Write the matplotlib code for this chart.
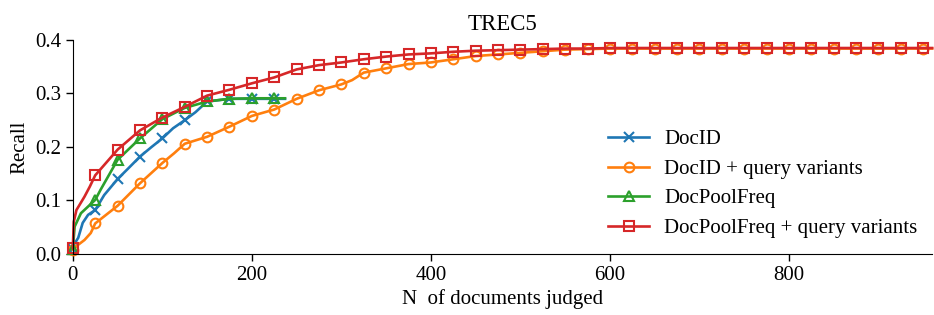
import matplotlib
matplotlib.use("Agg")
import matplotlib.pyplot as plt

# === Data ===
docid_x = [0, 1, 6, 11, 17, 25, 35, 50, 62, 75, 88, 100, 112, 125, 137, 150, 175, 200, 225, 237]
docid_y = [0.010, 0.017, 0.030, 0.058, 0.073, 0.082, 0.110, 0.140, 0.160, 0.182, 0.200, 0.216,
           0.235, 0.250, 0.265, 0.285, 0.290, 0.290, 0.290, 0.290]

docid_qv_x = [0, 2, 13, 20, 25, 50, 75, 100, 113, 125, 150, 175, 200, 225, 250, 275, 300, 312,
              325, 350, 375, 400, 425, 450, 475, 500, 525, 550, 575, 600, 625, 650, 675, 700,
              725, 750, 775, 800, 825, 850, 875, 900, 925, 950, 960]
docid_qv_y = [0.008, 0.012, 0.026, 0.039, 0.057, 0.090, 0.132, 0.170, 0.188, 0.206, 0.219, 0.238,
              0.258, 0.270, 0.290, 0.306, 0.317, 0.325, 0.339, 0.347, 0.355, 0.358, 0.364, 0.370,
              0.373, 0.376, 0.379, 0.382, 0.383, 0.384, 0.384, 0.384, 0.384, 0.384, 0.384, 0.384,
              0.384, 0.384, 0.384, 0.384, 0.384, 0.384, 0.384, 0.384, 0.384]

dpf_x = [0, 2, 9, 25, 31, 50, 75, 100, 125, 150, 175, 200, 225, 237]
dpf_y = [0.010, 0.051, 0.076, 0.101, 0.120, 0.176, 0.216, 0.252, 0.273, 0.285, 0.290, 0.291,
         0.291, 0.291]

dpf_qv_x = [0, 1, 4, 13, 19, 25, 50, 75, 100, 125, 150, 175, 200, 225, 250, 275, 300, 325, 350,
            375, 400, 425, 450, 475, 500, 525, 550, 575, 600, 625, 650, 675, 700, 725, 750, 775,
            800, 825, 850, 875, 900, 925, 950, 960]
dpf_qv_y = [0.011, 0.060, 0.082, 0.107, 0.126, 0.147, 0.195, 0.231, 0.255, 0.275, 0.296, 0.307,
            0.319, 0.330, 0.345, 0.353, 0.358, 0.364, 0.369, 0.373, 0.375, 0.378, 0.380, 0.381,
            0.382, 0.383, 0.384, 0.384, 0.385, 0.385, 0.385, 0.385, 0.385, 0.385, 0.385, 0.385,
            0.385, 0.385, 0.385, 0.385, 0.385, 0.385, 0.385, 0.385]

series = [
    ("DocID", docid_x, docid_y, "x", "#1f77b4"),
    ("DocID + query variants", docid_qv_x, docid_qv_y, "o", "#ff7f0e"),
    ("DocPoolFreq", dpf_x, dpf_y, "^", "#2ca02c"),
    ("DocPoolFreq + query variants", dpf_qv_x, dpf_qv_y, "s", "#d62728"),
]

plt.rcParams["font.family"] = ["Liberation Serif", "DejaVu Serif"]
plt.rcParams["font.size"] = 15

fig = plt.figure(figsize=(9.34, 3.15), dpi=100)
ax = fig.add_axes([0.078, 0.194, 0.92, 0.679])

for label, xs, ys, marker, color in series:
    marks = [i for i, v in enumerate(xs) if v % 25 == 0]
    ax.plot(xs, ys, color=color, lw=1.9, marker=marker, markevery=marks,
            markersize=7, fillstyle="none", markeredgewidth=1.5, label=label,
            clip_on=False)

ax.set_xlim(0, 960)
ax.set_ylim(0, 0.4)
ax.set_xticks([0, 200, 400, 600, 800])
ax.set_yticks([0.0, 0.1, 0.2, 0.3, 0.4])
ax.yaxis.set_major_formatter(matplotlib.ticker.FormatStrFormatter("%.1f"))
ax.spines["top"].set_visible(False)
ax.spines["right"].set_visible(False)
ax.tick_params(direction="out", length=5, width=1)

ax.set_title("TREC5", fontsize=16.5, pad=7)
ax.set_xlabel("N  of documents judged", labelpad=3)
ax.set_ylabel("Recall")
ax.legend(loc="upper left", bbox_to_anchor=(589 / 934, 1 - 111 / 315),
          bbox_transform=fig.transFigure, frameon=False,
          handlelength=2.0, handletextpad=0.7, labelspacing=0.48)

fig.savefig("out.png", dpi=100)
